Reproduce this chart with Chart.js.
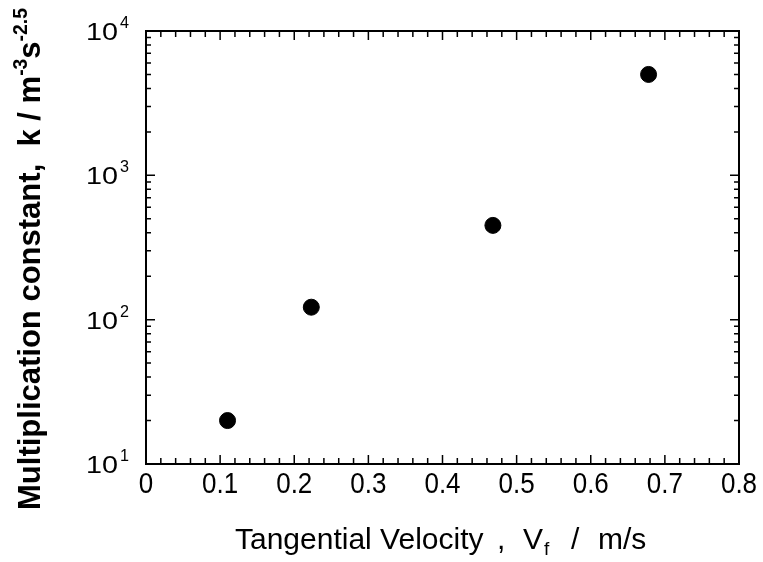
<!DOCTYPE html>
<html>
<head>
<meta charset="utf-8">
<script src="https://cdn.jsdelivr.net/npm/chart.js@4"></script>
<style>
  html, body { margin: 0; padding: 0; background: #fff; }
  #wrap { width: 763px; height: 562px; }
</style>
</head>
<body>
<div id="wrap"><canvas id="c" width="763" height="562"></canvas></div>
<script>
// data
const velocity = [0.11, 0.223, 0.468, 0.678];
const kConst = [20, 122, 450, 5000];
const xTicks = [0, 0.1, 0.2, 0.3, 0.4, 0.5, 0.6, 0.7, 0.8];
const yTicks = [10, 100, 1000, 10000];
const yExp = ['1', '2', '3', '4'];

const FONT = '"Liberation Sans", Arial, sans-serif';

// draw text squeezed/stretched to a given width
function fitText(ctx, txt, x, y, width, font) {
  ctx.save();
  ctx.font = font;
  const w = ctx.measureText(txt).width;
  ctx.translate(x, y);
  ctx.scale(width / w, 1);
  ctx.textAlign = 'left';
  ctx.fillText(txt, 0, 0);
  ctx.restore();
}

// ticks pointing inward, box, labels with superscripts
const framePlugin = {
  id: 'frame',
  afterDraw(chart) {
    const ctx = chart.ctx;
    const a = chart.chartArea;
    const xs = chart.scales.x, ys = chart.scales.y;
    ctx.save();
    ctx.strokeStyle = '#000';
    ctx.lineWidth = 2;
    ctx.strokeRect(a.left, a.top, a.right - a.left, a.bottom - a.top);

    ctx.lineWidth = 1.5;
    ctx.beginPath();
    // x ticks every 0.02
    for (let i = 0; i <= 40; i++) {
      const px = xs.getPixelForValue(i * 0.02);
      const len = i % 5 === 0 ? 9 : 6;
      ctx.moveTo(px, a.bottom); ctx.lineTo(px, a.bottom - len);
      ctx.moveTo(px, a.top); ctx.lineTo(px, a.top + len);
    }
    // y log ticks
    for (let d = 0; d < yTicks.length; d++) {
      for (let m = 1; m <= 9; m++) {
        const v = yTicks[d] * m;
        if (v > yTicks[yTicks.length - 1]) break;
        const py = ys.getPixelForValue(v);
        const len = m === 1 ? 9 : 5;
        ctx.moveTo(a.left, py); ctx.lineTo(a.left + len, py);
        ctx.moveTo(a.right, py); ctx.lineTo(a.right - len, py);
      }
    }
    ctx.stroke();

    ctx.fillStyle = '#000';
    // x tick labels
    ctx.textBaseline = 'middle';
    xTicks.forEach(t => {
      ctx.save();
      ctx.translate(xs.getPixelForValue(t), a.bottom + 21);
      ctx.scale(1, 1.12);
      ctx.font = '26px ' + FONT;
      ctx.textAlign = 'center';
      ctx.fillText(String(t), 0, 0);
      ctx.restore();
    });

    // y tick labels 10^n
    yTicks.forEach((t, i) => {
      const py = ys.getPixelForValue(t);
      ctx.textBaseline = 'alphabetic';
      fitText(ctx, '10', 86, py + 9, 32, '24px ' + FONT);
      fitText(ctx, yExp[i], 120, py - 3, 9, '17px ' + FONT);
    });

    // x axis title
    ctx.textBaseline = 'alphabetic';
    ctx.textAlign = 'left';
    ctx.font = '30px ' + FONT;
    ctx.fillText('Tangential Velocity', 235, 549);
    ctx.fillText(',', 497, 549);
    ctx.fillText('V', 523, 549);
    ctx.fillText('/', 571, 549);
    ctx.fillText('m/s', 598, 549);
    ctx.font = '19px ' + FONT;
    ctx.fillText('f', 544, 555);

    // y axis title, rotated
    ctx.save();
    ctx.translate(40, 259);
    ctx.rotate(-Math.PI / 2);
    const big = 'bold 32px ' + FONT, small = 'bold 20px ' + FONT;
    const yt = [
      ['Multiplication constant,  k / m', big, 0],
      ['-3', small, -13],
      ['s', big, 0],
      ['-2.5', small, -13]
    ];
    let w = 0;
    yt.forEach(p => { ctx.font = p[1]; w += ctx.measureText(p[0]).width; });
    const sx = 502 / w;
    ctx.scale(sx, 1);
    let x0 = -w / 2;
    yt.forEach(p => {
      ctx.font = p[1];
      ctx.fillText(p[0], x0, p[2]);
      x0 += ctx.measureText(p[0]).width;
    });
    ctx.restore();
    ctx.restore();
  }
};

new Chart(document.getElementById('c'), {
  type: 'scatter',
  data: {
    datasets: [{
      data: velocity.map((v, i) => ({ x: v, y: kConst[i] })),
      backgroundColor: '#000',
      borderColor: '#000',
      pointRadius: 8,
      pointHoverRadius: 8
    }]
  },
  options: {
    responsive: false,
    animation: false,
    layout: { padding: { left: 138, right: 24, top: 31, bottom: 90 } },
    plugins: { legend: { display: false }, tooltip: { enabled: false } },
    scales: {
      x: {
        type: 'linear', min: 0, max: 0.8,
        grid: { display: false }, border: { display: false },
        ticks: { display: false }
      },
      y: {
        type: 'logarithmic', min: 10, max: 10000,
        grid: { display: false }, border: { display: false },
        ticks: { display: false }
      }
    }
  },
  plugins: [framePlugin]
});
</script>
</body>
</html>
